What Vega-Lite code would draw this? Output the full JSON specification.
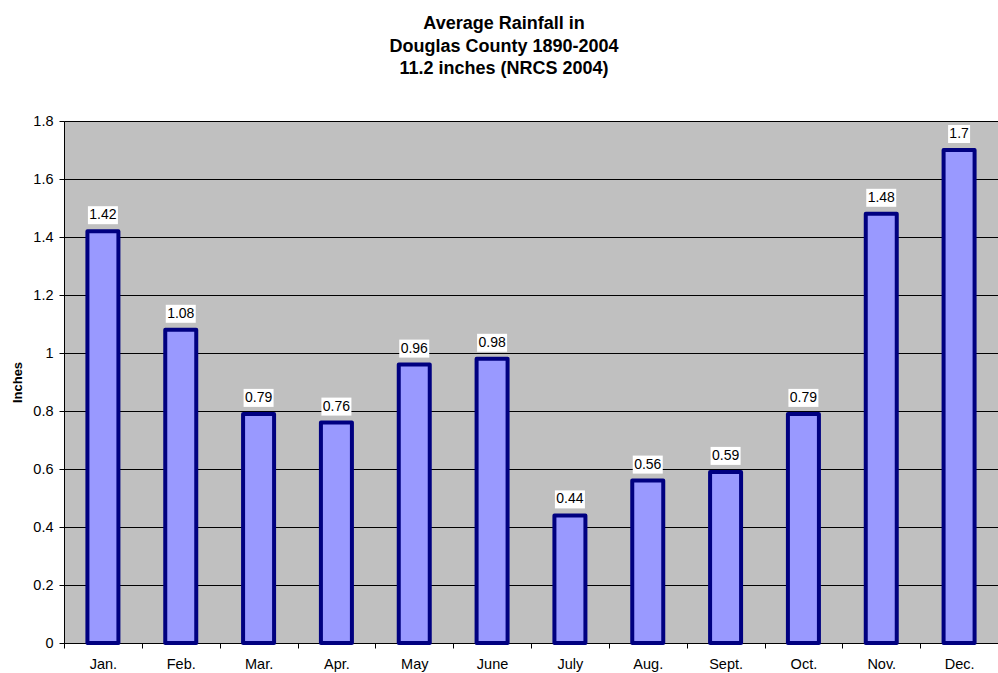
{
  "$schema": "https://vega.github.io/schema/vega-lite/v6.json",
  "width": 934,
  "height": 522,
  "autosize": "none",
  "padding": {"left": 64, "top": 121, "right": 0, "bottom": 30},
  "background": "white",
  "title": {
    "text": ["Average Rainfall in", "Douglas County 1890-2004", "11.2 inches (NRCS 2004)"],
    "font": "Liberation Sans",
    "fontSize": 18,
    "fontWeight": "bold",
    "color": "black",
    "lineHeight": 22.5,
    "anchor": "middle",
    "dx": -27,
    "offset": 35
  },
  "config": {
    "view": {"fill": "#C0C0C0", "stroke": "#808080", "strokeWidth": 1},
    "font": "Liberation Sans",
    "axis": {
      "labelFont": "Liberation Sans",
      "labelFontSize": 14.5,
      "labelColor": "black",
      "domainColor": "black",
      "tickColor": "black",
      "titleFont": "Liberation Sans"
    }
  },
  "data": {
    "values": [
      {"month": "Jan.", "inches": 1.42},
      {"month": "Feb.", "inches": 1.08},
      {"month": "Mar.", "inches": 0.79},
      {"month": "Apr.", "inches": 0.76},
      {"month": "May", "inches": 0.96},
      {"month": "June", "inches": 0.98},
      {"month": "July", "inches": 0.44},
      {"month": "Aug.", "inches": 0.56},
      {"month": "Sept.", "inches": 0.59},
      {"month": "Oct.", "inches": 0.79},
      {"month": "Nov.", "inches": 1.48},
      {"month": "Dec.", "inches": 1.7}
    ]
  },
  "encoding": {
    "x": {
      "field": "month",
      "type": "nominal",
      "sort": null,
      "scale": {"paddingInner": 0, "paddingOuter": 0},
      "axis": {
        "title": null,
        "labelAngle": 0,
        "tickBand": "extent",
        "tickSize": 5,
        "labelPadding": 9,
        "grid": false,
        "domainWidth": 1
      }
    },
    "y": {
      "field": "inches",
      "type": "quantitative",
      "scale": {"domain": [0, 1.8], "nice": false},
      "axis": {
        "title": "Inches",
        "titleFontSize": 13,
        "titleFontWeight": "bold",
        "titleColor": "black",
        "titlePadding": 8,
        "values": [0, 0.2, 0.4, 0.6, 0.8, 1, 1.2, 1.4, 1.6, 1.8],
        "format": "",
        "tickSize": 5,
        "labelPadding": 6,
        "grid": true,
        "gridColor": "black",
        "gridOpacity": 1,
        "gridWidth": 1
      }
    }
  },
  "layer": [
    {
      "mark": {"type": "bar", "size": 31, "fill": "#9999FF", "stroke": "#000080", "strokeWidth": 4, "strokeJoin": "round", "cornerRadius": 0}
    },
    {
      "mark": {
        "type": "point",
        "filled": true,
        "fill": "white",
        "opacity": 1,
        "strokeWidth": 0,
        "size": 400,
        "yOffset": -16
      },
      "encoding": {
        "shape": {
          "condition": {"test": "length(format(datum.inches, '')) <= 3", "value": "M-1.1,-0.9L1.1,-0.9L1.1,0.9L-1.1,0.9Z"},
          "value": "M-1.5,-0.9L1.5,-0.9L1.5,0.9L-1.5,0.9Z"
        }
      }
    },
    {
      "mark": {
        "type": "text",
        "font": "Liberation Sans",
        "fontSize": 14,
        "color": "black",
        "baseline": "middle",
        "yOffset": -16
      },
      "encoding": {"text": {"field": "inches", "type": "quantitative", "format": ""}}
    }
  ]
}
